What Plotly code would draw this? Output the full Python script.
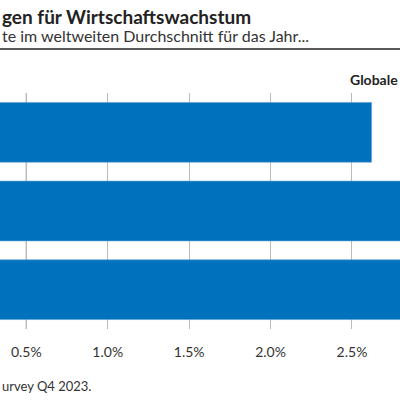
import plotly.graph_objects as go

# visible part of a cropped chart
title_text = "gen für Wirtschaftswachstum"
subtitle_text = "te im weltweiten Durchschnitt für das Jahr..."
source_text = "urvey Q4 2023."
header_text = "Globale"

categories = ["A", "B", "C"]
values = [2.62, 2.95, 3.05]
tick_vals = [0.5, 1.0, 1.5, 2.0, 2.5]
tick_text = ["0.5%", "1.0%", "1.5%", "2.0%", "2.5%"]
x_range = [0.3385, 2.7948]

font = "Lato"
bar_color = "#0071bc"

fig = go.Figure(go.Bar(
    y=categories,
    x=values,
    orientation="h",
    width=0.76,
    marker=dict(color=bar_color, line=dict(color="#5a9fd6", width=0.6)),
    hoverinfo="skip",
))

fig.add_vline(x=tick_vals[0], line_color="#666", line_width=1, layer="below")

fig.update_layout(
    width=400, height=400,
    margin=dict(l=0, r=0, t=93, b=71),
    plot_bgcolor="white", paper_bgcolor="white",
    showlegend=False,
    font=dict(family=font, color="#333"),
    xaxis=dict(range=x_range, tickvals=tick_vals, ticktext=tick_text,
               showgrid=True, gridcolor="#bbb", gridwidth=1, zeroline=False,
               ticks="outside", ticklen=10, tickcolor="rgba(0,0,0,0)",
               tickfont=dict(size=14, color="#333"), fixedrange=True),
    yaxis=dict(categoryorder="array", categoryarray=categories[::-1],
               showticklabels=False, showgrid=False, zeroline=False,
               range=[-0.5, 2.5], fixedrange=True),
    bargap=0.24,
)

fig.add_annotation(text="<b>" + title_text + "</b>", x=0, y=1, xref="paper", yref="paper",
                   xanchor="left", yanchor="middle", yshift=93 - 16, showarrow=False,
                   font=dict(size=19, color="#222", family=font))
fig.add_annotation(text=subtitle_text, x=0, y=1, xref="paper", yref="paper",
                   xanchor="left", yanchor="middle", yshift=93 - 35, showarrow=False,
                   font=dict(size=16, color="#333", family=font))
fig.add_shape(type="line", xref="paper", yref="paper", x0=0, x1=1, y0=1, y1=1,
              ysizemode="pixel", yanchor=1, line=dict(color="#222", width=1.5))
fig.update_shapes(selector=dict(type="line", xref="paper"), y0=93 - 49, y1=93 - 49)
fig.add_annotation(text="<b>" + header_text + "</b>", x=1, y=1, xref="paper", yref="paper",
                   xanchor="right", yanchor="middle", yshift=93 - 79, showarrow=False,
                   font=dict(size=14, color="#222", family=font))
fig.add_annotation(text=source_text, x=0, y=0, xref="paper", yref="paper",
                   xanchor="left", yanchor="middle", yshift=-(386 - 329), showarrow=False,
                   font=dict(size=13, color="#333", family=font))

fig.write_html("out.html", config={"displayModeBar": False},
               post_script="document.body.style.margin='0';document.body.style.overflow='hidden';")
